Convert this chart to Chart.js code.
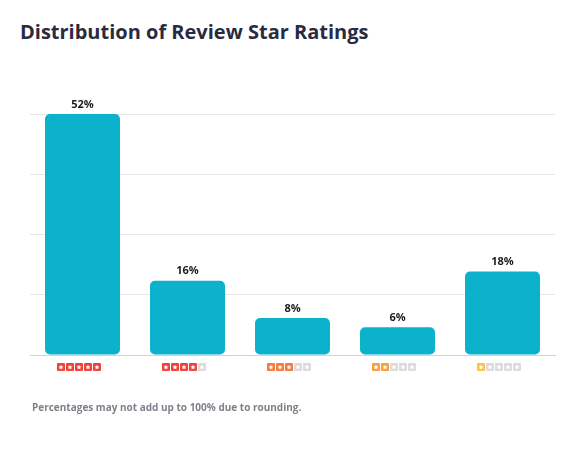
<!DOCTYPE html>
<html>
<head>
<meta charset="utf-8">
<script src="https://cdn.jsdelivr.net/npm/chart.js@4"></script>
<style>
  html, body { margin: 0; padding: 0; background: #fff; }
  #wrap { position: relative; width: 567px; height: 462px; font-family: "Open Sans", sans-serif; }
  #title { position: absolute; left: 20px; top: 18px; margin: 0; font-size: 20px; font-weight: 700; color: #2b2b3f; }
  #note { position: absolute; left: 32px; top: 400px; margin: 0; font-size: 10px; font-weight: 700; color: #80808a; }
  canvas { position: absolute; left: 0; top: 0; }
</style>
</head>
<body>
<div id="wrap">
  <h1 id="title">Distribution of Review Star Ratings</h1>
  <canvas id="chart" width="567" height="462"></canvas>
  <p id="note">Percentages may not add up to 100% due to rounding.</p>
</div>
<script>
// Datos
const starCounts = [5, 4, 3, 2, 1];
const percentValues = [52, 16, 8, 6, 18];
const starColors = ['#f2423b', '#f2423b', '#f67b3b', '#fb9e3e', '#fdc33e'];

const BAR_COLOR = '#0cb2cb';
const EMPTY_STAR = '#dcdcdc';

// Etiquetas de porcentaje encima de cada barra
const valueLabels = {
    id: 'valueLabels',
    afterDatasetsDraw(chart) {
        const ctx = chart.ctx;
        const meta = chart.getDatasetMeta(0);
        ctx.save();
        ctx.font = '700 11px "Open Sans", sans-serif';
        ctx.fillStyle = '#1c1c1c';
        ctx.textAlign = 'center';
        ctx.textBaseline = 'bottom';
        meta.data.forEach((bar, i) => {
            ctx.fillText(percentValues[i] + '%', bar.x, bar.y - 4);
        });
        ctx.restore();
    }
};

// Estrellas debajo del eje x
function drawStar(ctx, cx, cy, r) {
    ctx.beginPath();
    for (let k = 0; k < 10; k++) {
        const rad = k % 2 === 0 ? r : r * 0.45;
        const a = -Math.PI / 2 + k * Math.PI / 5;
        ctx.lineTo(cx + rad * Math.cos(a), cy + rad * Math.sin(a));
    }
    ctx.closePath();
    ctx.fill();
}

const starRow = {
    id: 'starRow',
    afterDraw(chart) {
        const ctx = chart.ctx;
        const xScale = chart.scales.x;
        const size = 8, gap = 1;
        const total = 5 * size + 4 * gap;
        const top = chart.chartArea.bottom + 8;
        ctx.save();
        starCounts.forEach((n, i) => {
            // la fila de estrellas queda un poco a la izquierda del centro
            const cx = xScale.getPixelForTick(i) - 4;
            let x = Math.round(cx - total / 2);
            for (let s = 0; s < 5; s++) {
                ctx.fillStyle = s < n ? starColors[i] : EMPTY_STAR;
                ctx.beginPath();
                ctx.roundRect(x, top, size, size, 1);
                ctx.fill();
                ctx.fillStyle = '#ffffff';
                drawStar(ctx, x + size / 2, top + size / 2 + 0.3, 2.6);
                x += size + gap;
            }
        });
        ctx.restore();
    }
};

new Chart(document.getElementById('chart'), {
    type: 'bar',
    data: {
        labels: starCounts.map(n => n + ' stars'),
        datasets: [{
            data: percentValues,
            backgroundColor: BAR_COLOR,
            borderRadius: 5,
            borderSkipped: false,
            categoryPercentage: 1,
            barPercentage: 0.714
        }]
    },
    options: {
        responsive: false,
        animation: false,
        layout: {
            padding: { left: 30, right: 12, top: 114, bottom: 99 }
        },
        plugins: {
            legend: { display: false },
            tooltip: { enabled: false }
        },
        scales: {
            x: {
                ticks: { display: false },
                grid: { display: false },
                border: { display: true, color: '#c9d3e6', width: 1 }
            },
            y: {
                min: 0,
                max: 52,
                ticks: { display: false, stepSize: 13 },
                grid: { color: '#e6e6e6', drawTicks: false },
                border: { display: false }
            }
        }
    },
    plugins: [valueLabels, starRow]
});
</script>
</body>
</html>
